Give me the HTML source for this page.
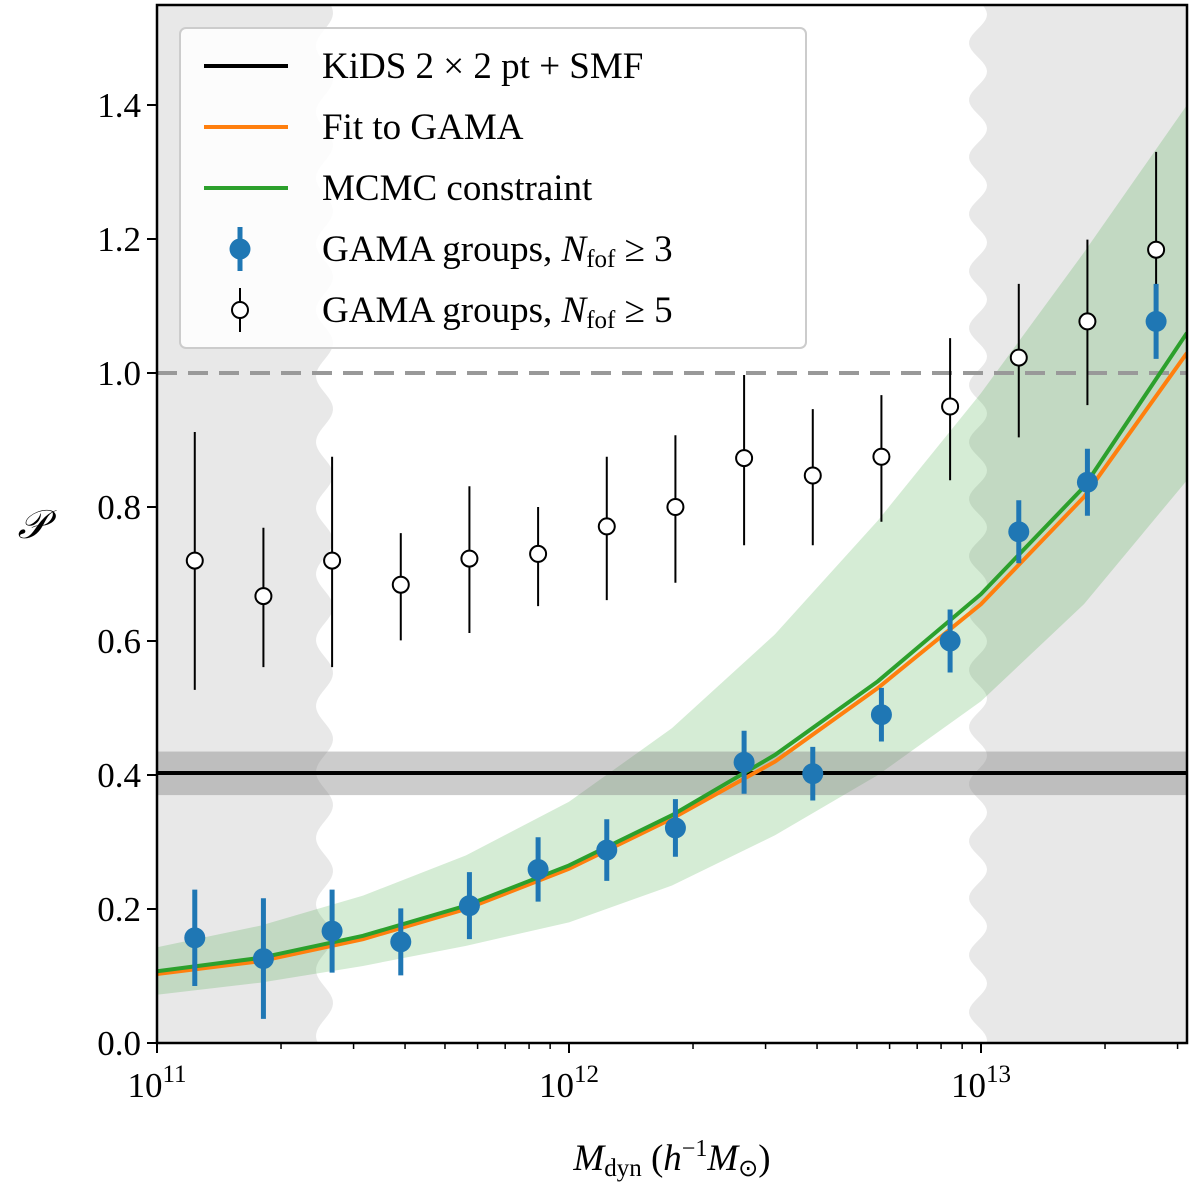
<!DOCTYPE html>
<html><head><meta charset="utf-8"><style>
html,body{margin:0;padding:0;background:#fff;}
svg{display:block;font-family:"Liberation Serif",serif;}
</style></head><body>
<svg id="chart" width="1200" height="1184" viewBox="0 0 1200 1184"></svg>
<script>
const massLogs = [11.0917,11.2583,11.425,11.5917,11.7583,11.925,12.0917,12.2583,12.425,12.5917,12.7583,12.925,13.0917,13.2583,13.425];
const blueVals = [0.157,0.126,0.167,0.151,0.205,0.259,0.288,0.321,0.419,0.402,0.490,0.600,0.763,0.837,1.077];
const blueErr = [0.072,0.09,0.062,0.05,0.05,0.048,0.046,0.043,0.047,0.04,0.04,0.047,0.047,0.05,0.056];
const openVals = [0.720,0.667,0.720,0.684,0.723,0.730,0.771,0.800,0.873,0.847,0.875,0.950,1.023,1.077,1.184];
const openLo = [0.527,0.561,0.561,0.601,0.612,0.652,0.661,0.687,0.743,0.743,0.778,0.840,0.904,0.952,1.031];
const openHi = [0.912,0.769,0.875,0.761,0.831,0.800,0.875,0.907,0.997,0.946,0.967,1.052,1.133,1.199,1.330];
const curveLogs = [11.0,11.25,11.5,11.75,12.0,12.25,12.5,12.75,13.0,13.25,13.5];
const mcmcVals = [0.107,0.127,0.16,0.205,0.265,0.34,0.43,0.54,0.67,0.83,1.06];
const gamaFitVals = [0.103,0.122,0.155,0.2,0.26,0.335,0.42,0.53,0.655,0.815,1.03];
const bandLo = [0.072,0.09,0.115,0.145,0.18,0.235,0.31,0.40,0.51,0.655,0.84];
const bandHi = [0.143,0.175,0.22,0.28,0.36,0.47,0.61,0.78,0.97,1.18,1.40];
const kidsVal = 0.403, kidsLo = 0.37, kidsHi = 0.435;
const yTicks = [0.0,0.2,0.4,0.6,0.8,1.0,1.2,1.4];
const xDecades = [11,12,13];

const L=157,R=1187,T=5,B=1043;
const X = lg => L + (lg-11)*412;
const Y = v => B - v*670;
const NS="http://www.w3.org/2000/svg";
const svg=document.getElementById('chart');
function el(tag,attrs,parent){const e=document.createElementNS(NS,tag);for(const k in attrs)e.setAttribute(k,attrs[k]);(parent||svg).appendChild(e);return e;}

const clip=el('clipPath',{id:'pc'});el('rect',{x:L,y:T,width:R-L,height:B-T},clip);
const g=el('g',{'clip-path':'url(#pc)'});

function wavy(xc,amp,period,leftSide){
  let d='';
  if(leftSide){d=`M${L},${T} `;for(let y=T;y<=B;y+=3){d+=`L${xc+amp*Math.cos((y-640)*2*Math.PI/period)},${y} `;}d+=`L${L},${B} Z`;}
  else{d=`M${R},${T} `;for(let y=T;y<=B;y+=3){d+=`L${xc+amp*Math.cos((y-43)*2*Math.PI/period)},${y} `;}d+=`L${R},${B} Z`;}
  return d;
}
const gl=el('path',{d:wavy(324.5,-8.5,66,true),fill:'#e8e8e8'},g);


const gr=el('path',{d:wavy(978,-9,57,false),fill:'#e8e8e8'},g);



let bd='M'+curveLogs.map((l,i)=>`${X(l)},${Y(bandHi[i])}`).join(' L');
for(let i=curveLogs.length-1;i>=0;i--)bd+=` L${X(curveLogs[i])},${Y(bandLo[i])}`;
const band=el('path',{d:bd+' Z',fill:'rgba(44,160,44,0.2)'},g);



const kb=el('rect',{x:L,y:Y(kidsHi),width:R-L,height:Y(kidsLo)-Y(kidsHi),fill:'rgba(128,128,128,0.4)'},g);


const kl=el('line',{x1:L,x2:R,y1:Y(kidsVal),y2:Y(kidsVal),stroke:'#000','stroke-width':4},g);



const dl=el('line',{x1:L,x2:R,y1:Y(1),y2:Y(1),stroke:'#999','stroke-width':4,'stroke-dasharray':'20,11'},g);



const oc=el('polyline',{points:curveLogs.map((l,i)=>`${X(l)},${Y(gamaFitVals[i])}`).join(' '),fill:'none',stroke:'#ff7f0e','stroke-width':4},g);


const gc=el('polyline',{points:curveLogs.map((l,i)=>`${X(l)},${Y(mcmcVals[i])}`).join(' '),fill:'none',stroke:'#2ca02c','stroke-width':4},g);



massLogs.forEach((l,i)=>{
  const ln=el('line',{x1:X(l),x2:X(l),y1:Y(openHi[i]),y2:Y(openLo[i]),stroke:'#000','stroke-width':2},g);
  
  
  const c=el('circle',{cx:X(l),cy:Y(openVals[i]),r:8,fill:'#fff',stroke:'#000','stroke-width':2},g);
  
  
});
massLogs.forEach((l,i)=>{
  const ln=el('line',{x1:X(l),x2:X(l),y1:Y(blueVals[i]+blueErr[i]),y2:Y(blueVals[i]-blueErr[i]),stroke:'#1f77b4','stroke-width':5},g);
  
  
  const c=el('circle',{cx:X(l),cy:Y(blueVals[i]),r:10.5,fill:'#1f77b4'},g);
  
  
});

const fr=el('rect',{x:L,y:T,width:R-L,height:B-T,fill:'none',stroke:'#000','stroke-width':2.5});



yTicks.forEach(v=>{
  el('line',{x1:L-10,x2:L,y1:Y(v),y2:Y(v),stroke:'#000','stroke-width':2});
  const t=el('text',{x:L-16,y:Y(v)+12,'text-anchor':'end','font-size':35});
  t.textContent=v.toFixed(1);
  
  
});
xDecades.forEach(d=>{
  el('line',{x1:X(d),x2:X(d),y1:B,y2:B+10,stroke:'#000','stroke-width':2});
  const t=el('text',{x:X(d),y:B+54,'text-anchor':'middle','font-size':35});
  t.innerHTML=`10<tspan dy="-15" font-size="25">${d}</tspan>`;
  
  
  for(let m=2;m<=9;m++){const lx=X(d+Math.log10(m));if(lx<=R)el('line',{x1:lx,x2:lx,y1:B,y2:B+6,stroke:'#000','stroke-width':1.5});}
});

const xt=el('text',{x:672,y:1170,'text-anchor':'middle','font-size':37});
xt.innerHTML='<tspan font-style="italic">M</tspan><tspan font-size="25" dy="6">dyn</tspan><tspan dy="-6"> (</tspan><tspan font-style="italic">h</tspan><tspan font-size="24" dy="-14">−1</tspan><tspan dy="14" font-style="italic">M</tspan><tspan font-size="24" dy="6">⊙</tspan><tspan dy="-6">)</tspan>';


const yt=el('text',{x:32,y:538,'text-anchor':'middle','font-size':40,'font-style':'italic'});
yt.textContent='𝒫';



const lg=el('g',{});


el('rect',{x:180,y:28,width:626,height:320,rx:6,fill:'rgba(255,255,255,0.85)',stroke:'#ccc','stroke-width':2},lg);
const rows=[66,127,188,249,310];
const labels=['KiDS 2 × 2 pt + SMF','Fit to GAMA','MCMC constraint','GAMA groups, <tspan font-style="italic">N</tspan><tspan font-size="25" dy="6">fof</tspan><tspan dy="-6"> ≥ 3</tspan>','GAMA groups, <tspan font-style="italic">N</tspan><tspan font-size="25" dy="6">fof</tspan><tspan dy="-6"> ≥ 5</tspan>'];
const cols=['#000','#ff7f0e','#2ca02c'];
rows.forEach((y,i)=>{
  if(i<3){el('line',{x1:204,x2:288,y1:y,y2:y,stroke:cols[i],'stroke-width':4},lg);}
  else if(i===3){el('line',{x1:240,x2:240,y1:y-22,y2:y+22,stroke:'#1f77b4','stroke-width':5},lg);el('circle',{cx:240,cy:y,r:10.5,fill:'#1f77b4'},lg);}
  else{el('line',{x1:240,x2:240,y1:y-22,y2:y+22,stroke:'#000','stroke-width':2},lg);el('circle',{cx:240,cy:y,r:8,fill:'#fff',stroke:'#000','stroke-width':2},lg);}
  const t=el('text',{x:322,y:y+12,'font-size':37},lg);
  t.innerHTML=labels[i];
  
  
});
</script>
</body></html>
